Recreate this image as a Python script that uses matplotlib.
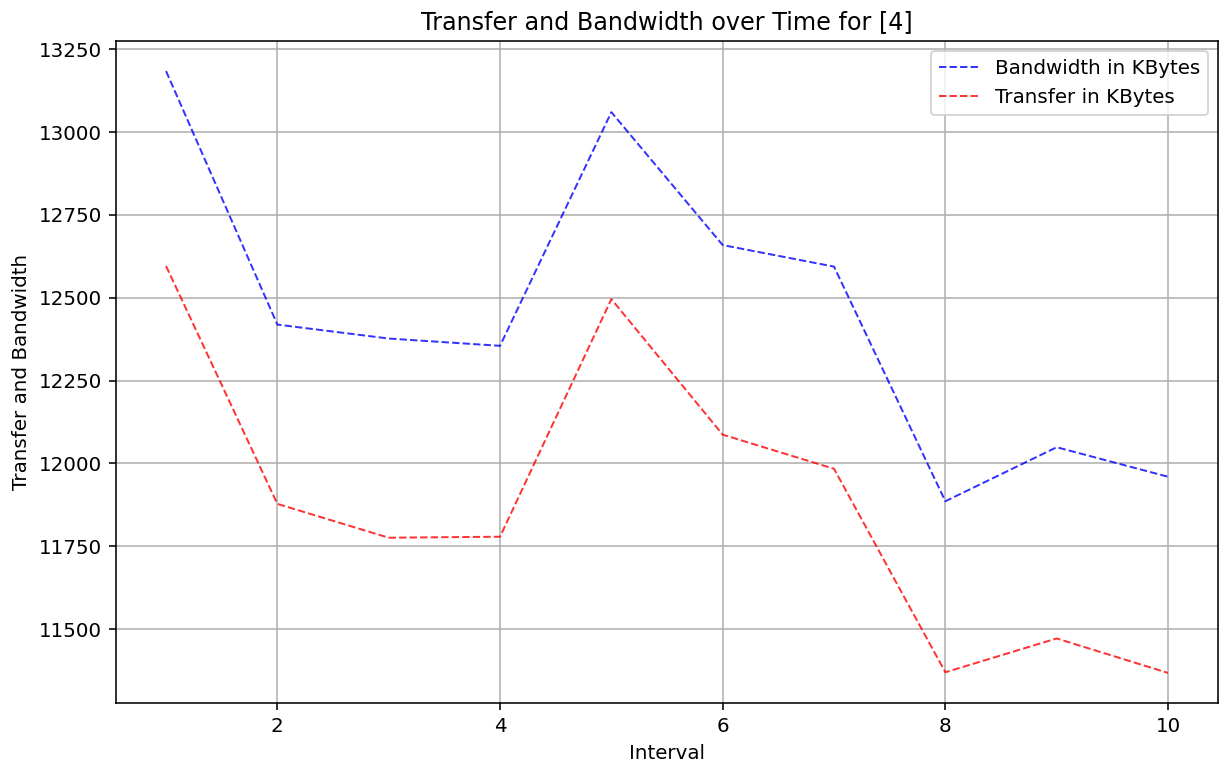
import matplotlib
matplotlib.use("Agg")
import matplotlib.pyplot as plt

intervals = [1, 2, 3, 4, 5, 6, 7, 8, 9, 10]
bandwidth = [13184, 12419, 12377, 12355, 13060, 12659, 12594, 11886, 12049, 11960]
transfer = [12596, 11878, 11776, 11779, 12496, 12087, 11984, 11370, 11472, 11368]

DPI = 143
fig = plt.figure(figsize=(1223 / DPI, 769 / DPI), dpi=DPI)
ax = fig.add_axes([0.0948, 0.0858, 0.9012, 0.8609])
ax.plot(intervals, bandwidth, linestyle='--', color='blue', linewidth=1.0, alpha=0.8, label='Bandwidth in KBytes')
ax.plot(intervals, transfer, linestyle='--', color='red', linewidth=1.0, alpha=0.8, label='Transfer in KBytes')
ax.set_title('Transfer and Bandwidth over Time for [4]', fontsize=12)
ax.set_xlabel('Interval')
ax.set_ylabel('Transfer and Bandwidth')
ax.grid(True)
ax.legend(loc='upper right')
fig.savefig('out.png', dpi=DPI)
